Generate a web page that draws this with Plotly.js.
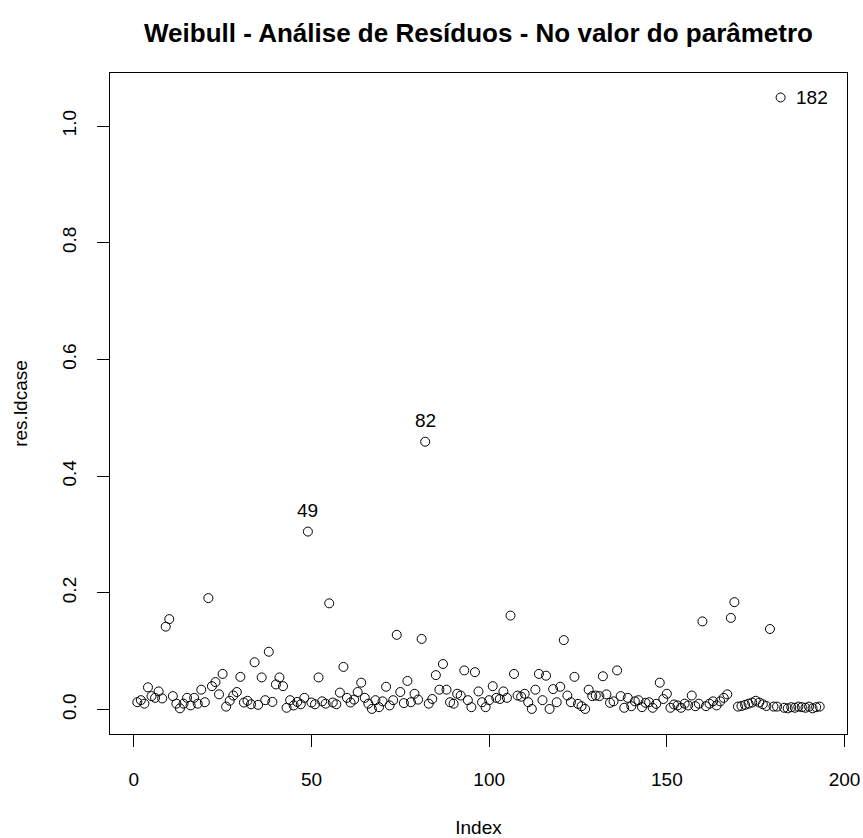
<!DOCTYPE html>
<html>
<head>
<meta charset="utf-8">
<script src="https://cdn.plot.ly/plotly-3.0.1.min.js"></script>
<style>
  html, body { margin: 0; padding: 0; background: #ffffff; }
  #plot { width: 863px; height: 838px; }
</style>
</head>
<body>
<div id="plot"></div>
<script>
// Residual diagnostic (likelihood displacement) per observation, Weibull fit
const resLdcase = [
  0.0125, 0.016, 0.010, 0.038, 0.023, 0.020, 0.031, 0.019, 0.142, 0.155,
  0.023, 0.010, 0.002, 0.010, 0.020, 0.007, 0.020, 0.010, 0.034, 0.0125,
  0.191, 0.040, 0.047, 0.026, 0.061, 0.005, 0.015, 0.024, 0.030, 0.056,
  0.012, 0.015, 0.009, 0.081, 0.008, 0.055, 0.016, 0.099, 0.013, 0.043,
  0.055, 0.040, 0.003, 0.016, 0.007, 0.013, 0.009, 0.020, 0.305, 0.012,
  0.009, 0.055, 0.014, 0.010, 0.182, 0.012, 0.009, 0.029, 0.073, 0.020,
  0.012, 0.017, 0.030, 0.046, 0.020, 0.010, 0.001, 0.016, 0.004, 0.014,
  0.039, 0.007, 0.016, 0.128, 0.030, 0.011, 0.049, 0.0125, 0.027, 0.017,
  0.121, 0.459, 0.010, 0.018, 0.059, 0.034, 0.078, 0.034, 0.0125, 0.010,
  0.027, 0.024, 0.067, 0.016, 0.004, 0.064, 0.031, 0.0125, 0.004, 0.016,
  0.040, 0.020, 0.018, 0.031, 0.020, 0.161, 0.061, 0.024, 0.022, 0.027,
  0.0125, 0.001, 0.034, 0.061, 0.016, 0.058, 0.001, 0.035, 0.0125, 0.039,
  0.119, 0.024, 0.0125, 0.056, 0.0097, 0.0057, 0.001, 0.034, 0.023, 0.024,
  0.023, 0.057, 0.026, 0.0115, 0.014, 0.067, 0.023, 0.003, 0.020, 0.0057,
  0.014, 0.016, 0.004, 0.0115, 0.0125, 0.003, 0.0097, 0.046, 0.018, 0.027,
  0.003, 0.0086, 0.007, 0.003, 0.010, 0.007, 0.024, 0.0057, 0.010, 0.151,
  0.0057, 0.010, 0.014, 0.007, 0.014, 0.020, 0.026, 0.157, 0.184, 0.005,
  0.006, 0.008, 0.010, 0.012, 0.015, 0.012, 0.009, 0.006, 0.138, 0.005,
  0.005, 1.049, 0.003, 0.002, 0.004, 0.003, 0.005, 0.004, 0.003, 0.005,
  0.002, 0.004, 0.005
];

// Observation numbers 1..n
const obsIndex = resLdcase.map((_, i) => i + 1);

// Flagged observations and where their labels sit
const flagged = [49, 82, 182];
const flagSide = ["top", "top", "right"];

const xTicks = [0, 50, 100, 150, 200];
const yTicks = [0.0, 0.2, 0.4, 0.6, 0.8, 1.0];
const yTickText = ["0.0", "0.2", "0.4", "0.6", "0.8", "1.0"];

const FONT = "Liberation Sans, Arial, Helvetica, sans-serif";

// axis padding of 4% on each side of the data range
const n = obsIndex.length;
const xPad = 0.04 * (n - 1);
const yMax = Math.max(...resLdcase);
const yMin = Math.min(0, Math.min(...resLdcase));
const yPad = 0.04 * (yMax - yMin);

const trace = {
  type: "scatter",
  mode: "markers",
  x: obsIndex,
  y: resLdcase,
  marker: {
    symbol: "circle-open",
    size: 9,
    color: "#000000",
    line: { width: 1, color: "#000000" }
  },
  hoverinfo: "x+y",
  showlegend: false
};

const annotations = flagged.map((k, j) => {
  const side = flagSide[j];
  return {
    x: k,
    y: resLdcase[k - 1],
    xref: "x",
    yref: "y",
    text: String(k),
    showarrow: false,
    font: { family: FONT, size: 19, color: "#000000" },
    xanchor: side === "right" ? "left" : "center",
    yanchor: "middle",
    xshift: side === "right" ? 13 : 0,
    yshift: side === "top" ? 21 : 0
  };
});

const layout = {
  width: 863,
  height: 838,
  paper_bgcolor: "#ffffff",
  plot_bgcolor: "#ffffff",
  margin: { l: 110, r: 16, t: 73, b: 104, pad: 0 },
  title: {
    text: "<b>Weibull - Análise de Resíduos - No valor do parâmetro</b>",
    font: { family: FONT, size: 26, color: "#000000" },
    x: 0.5,
    xref: "paper",
    xanchor: "center",
    y: 1 - 33 / 838,
    yref: "container",
    yanchor: "middle"
  },
  xaxis: {
    range: [1 - xPad, n + xPad],
    tickmode: "array",
    tickvals: xTicks,
    ticktext: xTicks.map(String),
    ticks: "outside",
    ticklen: 12,
    tickwidth: 1,
    tickcolor: "#000000",
    showline: true,
    linecolor: "#000000",
    linewidth: 1,
    mirror: true,
    showgrid: false,
    zeroline: false,
    ticklabelstandoff: 16,
    tickfont: { family: FONT, size: 19, color: "#000000" },
    title: {
      text: "Index",
      font: { family: FONT, size: 19, color: "#000000" },
      standoff: 31
    },
    automargin: false
  },
  yaxis: {
    range: [yMin - yPad, yMax + yPad],
    tickmode: "array",
    tickvals: yTicks,
    ticktext: yTickText,
    tickangle: -90,
    ticks: "outside",
    ticklen: 12,
    tickwidth: 1,
    tickcolor: "#000000",
    showline: true,
    linecolor: "#000000",
    linewidth: 1,
    mirror: true,
    showgrid: false,
    zeroline: false,
    ticklabelstandoff: 13,
    tickfont: { family: FONT, size: 19, color: "#000000" },
    title: {
      text: "res.ldcase",
      font: { family: FONT, size: 19, color: "#000000" },
      standoff: 26
    },
    automargin: false
  },
  annotations: annotations
};

Plotly.newPlot("plot", [trace], layout, { displayModeBar: false, staticPlot: true });
</script>
</body>
</html>
